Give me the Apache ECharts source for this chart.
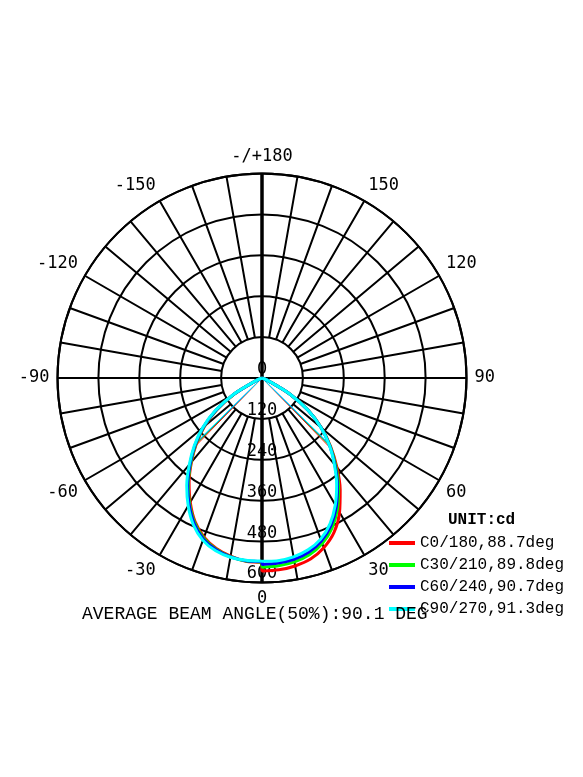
<!DOCTYPE html>
<html>
<head>
<meta charset="utf-8">
<script src="https://cdn.jsdelivr.net/npm/echarts@6/dist/echarts.min.js"></script>
<style>
  html, body { margin: 0; padding: 0; background: #fff; }
  #myChart { width: 583px; height: 777px; }
</style>
</head>
<body>
<div id="myChart"></div>
<script>
// gamma angles (deg from nadir), one half-plane
const angles = [0, 5, 10, 15, 20, 25, 30, 35, 40, 45, 50, 55, 60, 65, 70, 75, 80, 85, 90]

// intensity (cd); "right" = C0..C90 side, "left" = C180..C270 side
const c0Right   = [566, 565, 560, 550, 530, 500, 455, 400, 342, 285, 228, 166, 95, 25, 0, 0, 0, 0, 0]
const c0Left    = [544, 540, 531, 518, 497, 465, 421, 373, 322, 272, 220, 161, 94, 22, 0, 0, 0, 0, 0]
const c30Right  = [555, 553, 548, 537, 517, 486, 443, 392, 337, 283, 227, 166, 95, 25, 0, 0, 0, 0, 0]
const c30Left   = [542, 539, 532, 520, 500, 468, 425, 377, 325, 275, 223, 163, 95, 23, 0, 0, 0, 0, 0]
const c60Right  = [547, 545, 540, 529, 509, 478, 436, 386, 333, 281, 226, 165, 95, 25, 0, 0, 0, 0, 0]
const c60Left   = [540, 538, 533, 522, 503, 471, 428, 380, 328, 278, 225, 165, 96, 24, 0, 0, 0, 0, 0]
const c90Right  = [540, 538, 533, 522, 503, 472, 430, 382, 330, 280, 225, 165, 95, 25, 0, 0, 0, 0, 0]
const c90Left   = [538, 537, 534, 525, 507, 476, 433, 385, 332, 281, 228, 168, 98, 25, 0, 0, 0, 0, 0]

const seriesNames = ['C0/180', 'C30/210', 'C60/240', 'C90/270']
const beamAngles = [88.7, 89.8, 90.7, 91.3]
const halfValues = [285, 283, 281, 280]
const colors = ['#ff0000', '#00ff00', '#0000ff', '#00ffff']

const radiusMax = 600
const radiusStep = 120
const angleLabelStep = 30
const spokeStep = 10

const avgBeam = beamAngles.reduce((a, b) => a + b, 0) / beamAngles.length

// left half goes -90 -> 0 (drawn at 360 - a), then right half 0 -> 90
function toPolar(left, right) {
  const pts = []
  for (let i = angles.length - 1; i >= 0; i--) pts.push([left[i], 360 - angles[i]])
  for (let i = 0; i < angles.length; i++) pts.push([right[i], angles[i]])
  return pts
}

const curves = [
  toPolar(c0Left, c0Right),
  toPolar(c30Left, c30Right),
  toPolar(c60Left, c60Right),
  toPolar(c90Left, c90Right)
]

// grid spokes, from the first ring out to the rim
const spokes = []
for (let a = spokeStep; a < 360; a += spokeStep) {
  if (a % 90 === 0) continue
  spokes.push([radiusStep, a], [radiusMax, a], ['-', '-'])
}

const series = [
  {
    type: 'line', coordinateSystem: 'polar', symbol: 'none', silent: true,
    lineStyle: { color: '#000', width: 2 }, data: spokes
  },
  {
    type: 'line', coordinateSystem: 'polar', symbol: 'none', silent: true,
    lineStyle: { color: '#000', width: 2 }, data: [[radiusMax, 90], [0, 0], [radiusMax, 270]]
  },
  {
    type: 'line', coordinateSystem: 'polar', symbol: 'none', silent: true,
    lineStyle: { color: '#000', width: 3.5 }, data: [[radiusMax, 180], [0, 0], [radiusMax, 0]]
  }
]

// beam angle guide lines
beamAngles.forEach((b, i) => {
  series.push({
    type: 'line', coordinateSystem: 'polar', symbol: 'none', silent: true,
    lineStyle: { color: colors[i], width: 1 },
    data: [[halfValues[i], 360 - b / 2], [0, 0], [halfValues[i], b / 2]]
  })
})

curves.forEach((pts, i) => {
  series.push({
    name: seriesNames[i] + ',' + beamAngles[i].toFixed(1) + 'deg',
    type: 'line', coordinateSystem: 'polar', symbol: 'none',
    smooth: 0.3,
    color: colors[i],
    lineStyle: { color: colors[i], width: 3 },
    data: pts
  })
})

const myChart = echarts.init(document.getElementById('myChart'), null, { renderer: 'canvas' })
const option = {
  animation: false,
  backgroundColor: '#fff',
  title: [
    {
      text: 'AVERAGE BEAM ANGLE(50%):' + avgBeam.toFixed(1) + ' DEG',
      left: 82, top: 605, padding: 0,
      textStyle: { fontFamily: 'Liberation Mono', fontSize: 18, fontWeight: 'normal', color: '#000' }
    },
    {
      text: 'UNIT:cd',
      left: 448, top: 512, padding: 0,
      textStyle: { fontFamily: 'Liberation Mono', fontSize: 16, fontWeight: 'bold', color: '#000' }
    }
  ],
  legend: {
    orient: 'vertical',
    left: 389, top: 535, padding: 0,
    itemWidth: 26, itemHeight: 4, itemGap: 6,
    icon: 'rect',
    data: series.filter(s => s.name).map(s => s.name),
    textStyle: { fontFamily: 'Liberation Mono', fontSize: 16, color: '#000' }
  },
  polar: {
    center: [262, 378],
    radius: 204.5
  },
  angleAxis: {
    type: 'value',
    min: 0, max: 360,
    interval: angleLabelStep,
    startAngle: 270,
    clockwise: false,
    axisLine: { show: true, lineStyle: { color: '#000', width: 2 } },
    axisTick: { show: false },
    splitLine: { show: false },
    axisLabel: {
      margin: 8,
      fontFamily: 'DejaVu Sans Mono', fontSize: 17, color: '#000',
      formatter: function (v) {
        if (v === 360) return ''
        if (v === 180) return '-/+180'
        return v > 180 ? String(v - 360) : String(v)
      }
    }
  },
  radiusAxis: {
    type: 'value',
    min: 0, max: radiusMax,
    interval: radiusStep,
    axisLine: { show: false },
    axisTick: { show: false },
    splitLine: { show: true, lineStyle: { color: '#000', width: 2 } },
    axisLabel: {
      margin: 0,
      align: 'center', verticalAlign: 'bottom',
      fontFamily: 'DejaVu Sans Mono', fontSize: 17, color: '#000'
    }
  },
  series: series
}
myChart.setOption(option)
</script>
</body>
</html>
